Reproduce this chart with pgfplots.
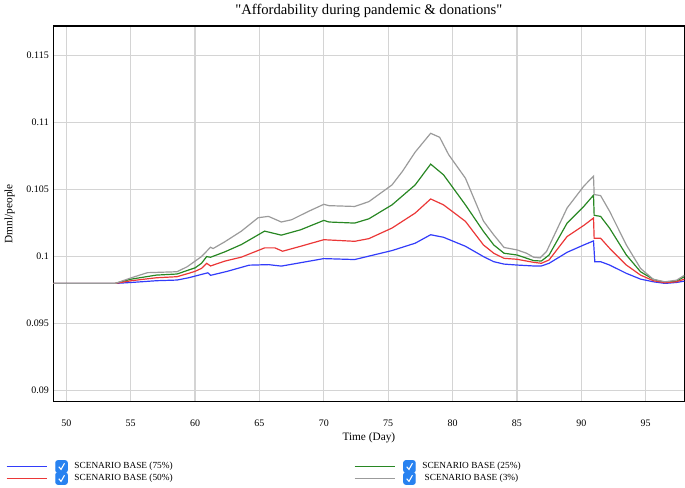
\documentclass[border=0pt]{standalone}
\usepackage{fontspec}
\setmainfont{Liberation Serif}
\newfontfamily\titlefont{Liberation Serif}
\usepackage{pgfplots}
\pgfplotsset{compat=1.18}

\definecolor{sblue}{RGB}{50,60,250}
\definecolor{sred}{RGB}{235,55,55}
\definecolor{sgreen}{RGB}{40,135,35}
\definecolor{sgray}{RGB}{155,155,155}
\definecolor{checkblue}{RGB}{40,130,240}
\definecolor{gridgray}{RGB}{212,212,212}

\begin{document}
\begin{tikzpicture}
\begin{axis}[
  scale only axis,
  width=474pt, height=282pt,
  xmin=49, xmax=98,
  ymin=0.0892, ymax=0.1172,
  xtick={50,55,...,95},
  ytick={0.09,0.095,0.1,0.105,0.11,0.115},
  scaled y ticks=false,
  yticklabel style={/pgf/number format/fixed, /pgf/number format/precision=3},
  /pgf/number format/assume math mode=true,
  tick label style={font=\fontsize{7.5}{9}\selectfont},
  major tick length=0pt,
  xticklabel style={anchor=center, yshift=-16.5pt},
  grid=major,
  grid style={gridgray, line width=0.9pt},
  axis line style={black, line width=1.1pt},
  title={\titlefont "Affordability during pandemic \& donations"},
  title style={font=\fontsize{11}{13}\selectfont, at={(axis description cs:0.5,1)}, anchor=base, yshift=2.5pt},
  xlabel={Time (Day)},
  xlabel style={font=\fontsize{8.5}{10}\selectfont, at={(axis description cs:0.5,0)}, anchor=center, yshift=-27.75pt},
  ylabel={Dmnl/people},
  ylabel style={font=\fontsize{8.5}{10}\selectfont, at={(axis description cs:-0.0696,0.5)}, anchor=center},
  legend columns=2,
  legend style={draw=none, fill=none, at={(axis description cs:0,0)}, anchor=north west,
    xshift=-39pt, yshift=-42pt, font=\fontsize{7}{8}\selectfont,
    nodes={inner sep=1pt}, row sep=-0.5pt, column sep=4pt,
    /tikz/every even column/.append style={column sep=135pt}},
  legend image code/.code={
    \draw[#1, line width=1.2pt] (0pt,0pt) -- (30.5pt,0pt);
    \fill[checkblue, rounded corners=1.5pt] (37pt,-4.3pt) rectangle (45.5pt,4.3pt);
    \draw[white, line width=0.8pt] (39.2pt,-0.2pt) -- (40.9pt,-2.2pt) -- (43.5pt,2.4pt);
  },
  every axis plot/.append style={line width=0.9pt, mark=none},
]

% SCENARIO BASE (75%)
\addplot[sblue] coordinates {
(49,0.098) (53.8,0.098) (55.05,0.09807) (57,0.0982) (58.6,0.09825) (59.5,0.09842)
(60.5,0.09867) (61,0.09879) (61.2,0.0986) (62.5,0.0989) (64.2,0.09936) (65.7,0.0994)
(66.7,0.09929) (70,0.09985) (72.4,0.09978) (75.3,0.10045) (77.1,0.1010) (78.3,0.10163)
(79.3,0.10144) (81,0.10077) (82.4,0.1) (83.2,0.09962) (84,0.09944) (85,0.09937)
(86.3,0.0993) (86.9,0.0993) (87.5,0.0995) (88.9,0.10032) (90.2,0.10087) (90.95,0.10117)
(91.05,0.09962) (91.5,0.09962) (92.2,0.09937) (93.5,0.09875) (94.6,0.09832) (95.6,0.09812)
(96.5,0.098) (97.4,0.09807) (98,0.09817)
};
\addlegendentry{SCENARIO BASE (75\%)}

% SCENARIO BASE (25%)
\addplot[sgreen] coordinates {
(49,0.098) (53.8,0.098) (55.05,0.09832) (57,0.09862) (58.6,0.0987) (59.5,0.099)
(60,0.09916) (60.5,0.0995) (60.9,0.1000) (61.2,0.09995) (62.3,0.10035) (63.6,0.1009)
(65.4,0.1019) (66.7,0.1016) (68.2,0.1020) (70,0.1027) (70.4,0.10258) (72.4,0.1025)
(73.5,0.10282) (75.3,0.10386) (77.1,0.10535) (78.3,0.1069) (79.3,0.1061) (81,0.10386)
(82.4,0.10188) (83.2,0.10087) (84,0.10025) (85,0.10012) (86.3,0.0997) (86.9,0.09967)
(87.5,0.10012) (88.9,0.1025) (90.2,0.10375) (90.95,0.10458) (91.0,0.10308) (91.5,0.103)
(92.2,0.10212) (93.5,0.10012) (94.6,0.09887) (95.6,0.0983) (96.5,0.09807) (97.4,0.09817)
(98,0.0985)
};
\addlegendentry{SCENARIO BASE (25\%)}

% SCENARIO BASE (50%)
\addplot[sred] coordinates {
(49,0.098) (53.8,0.098) (55.05,0.0982) (57,0.09842) (58.6,0.0985) (59.5,0.09875)
(60,0.0989) (60.5,0.09912) (60.9,0.0995) (61.2,0.0993) (62.3,0.09966) (63.6,0.09996)
(65.4,0.10065) (66.2,0.10065) (66.8,0.1004) (68.2,0.10077) (70,0.10126) (72.4,0.10114)
(73.5,0.10134) (75.3,0.10213) (77.1,0.10325) (78.3,0.1043) (79.3,0.10386) (81,0.10263)
(82.4,0.10087) (83.2,0.10025) (84,0.09987) (85,0.0998) (86.3,0.09957) (86.9,0.0995)
(87.5,0.09975) (88.9,0.1015) (90.2,0.10233) (90.95,0.10288) (91.0,0.10137) (91.5,0.10137)
(92.2,0.10062) (93.5,0.09937) (94.6,0.09862) (95.6,0.0982) (96.5,0.09805) (97.4,0.09812)
(98,0.09832)
};
\addlegendentry{SCENARIO BASE (50\%)}

% SCENARIO BASE (3%)
\addplot[sgray] coordinates {
(49,0.098) (53.8,0.098) (55.05,0.09842) (56.3,0.0988) (58.6,0.09887) (59.4,0.09925)
(60,0.09966) (60.5,0.1) (61,0.1005) (61.2,0.1007) (61.4,0.1006) (62.3,0.1011)
(63.6,0.1019) (64.9,0.1029) (65.7,0.1030) (66.7,0.10258) (67.5,0.10275) (68.8,0.10337)
(70,0.1039) (70.4,0.1038) (72.4,0.10374) (73.5,0.1041) (75.3,0.10535) (76.1,0.10635)
(77.1,0.1078) (78.3,0.1092) (79,0.1089) (79.7,0.1076) (81,0.10585) (82.4,0.10265)
(83.2,0.10162) (84,0.10068) (85,0.1005) (85.75,0.10025) (86.3,0.09995) (86.8,0.0999)
(87.3,0.10038) (88.9,0.10363) (90.2,0.10526) (90.95,0.1060) (91.0,0.10463) (91.5,0.10455)
(92.2,0.10338) (93.5,0.10087) (94.6,0.09912) (95.6,0.0983) (96.5,0.09812) (97.4,0.09824)
(98,0.0986)
};
\addlegendentry{SCENARIO BASE (3\%)}

\end{axis}
\end{tikzpicture}
\end{document}
